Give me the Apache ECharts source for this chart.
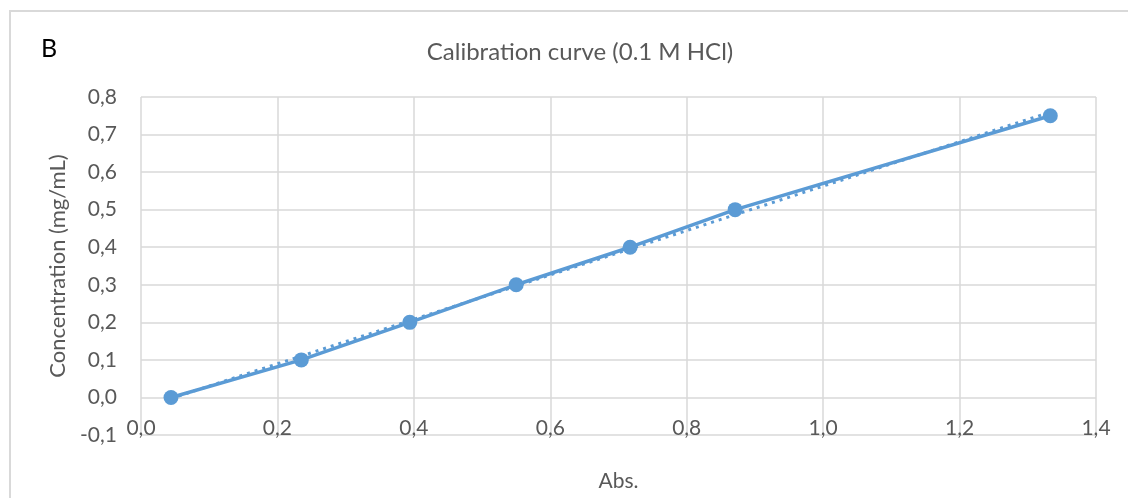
<!DOCTYPE html>
<html>
<head>
<meta charset="utf-8">
<script src="https://cdn.jsdelivr.net/npm/echarts@6/dist/echarts.min.js"></script>
<style>
html,body{margin:0;padding:0;background:#fff;}
#chart{width:1128px;height:498px;}
</style>
</head>
<body>
<div id="chart"></div>
<script>
// Data
const absValues = [0.044, 0.235, 0.394, 0.550, 0.717, 0.871, 1.333];
const concValues = [0.0, 0.1, 0.2, 0.3, 0.4, 0.5, 0.75];
const chartTitle = 'Calibration curve (0.1 M HCl)';
const panelLabel = 'B';
const xAxisTitle = 'Abs.';
const yAxisTitle = 'Concentration (mg/mL)';

const points = absValues.map((x, i) => [x, concValues[i]]);

// Linear least-squares trendline (as Excel's linear trendline)
const n = absValues.length;
const mx = absValues.reduce((a, b) => a + b, 0) / n;
const my = concValues.reduce((a, b) => a + b, 0) / n;
let sxy = 0, sxx = 0;
for (let i = 0; i < n; i++) {
  sxy += (absValues[i] - mx) * (concValues[i] - my);
  sxx += (absValues[i] - mx) * (absValues[i] - mx);
}
const slope = sxy / sxx;
const intercept = my - slope * mx;
const xMin = Math.min(...absValues), xMax = Math.max(...absValues);
const trend = [[xMin, intercept + slope * xMin], [xMax, intercept + slope * xMax]];

const fmt = v => v.toFixed(1).replace('.', ',');
const FONT = 'Lato';
const TXT = '#595959';
const GRID = '#D9D9D9';
const BLUE = '#5B9BD5';

const chart = echarts.init(document.getElementById('chart'), null, {renderer: 'canvas'});
chart.setOption({
  animation: false,
  backgroundColor: '#fff',
  textStyle: {fontFamily: FONT},
  title: {
    text: chartTitle,
    left: 575,
    top: 47,
    textAlign: 'center',
    textVerticalAlign: 'middle',
    textStyle: {fontFamily: FONT, fontSize: 24, fontWeight: 'normal', color: TXT}
  },
  graphic: [
    {type: 'rect', shape: {x: 10, y: 11, width: 1200, height: 600},
     style: {fill: 'none', stroke: GRID, lineWidth: 2}, silent: true, z: -10},
    {type: 'text', x: 41, y: 49,
     style: {text: panelLabel, fontFamily: FONT, fontSize: 25, fill: '#000', verticalAlign: 'middle', align: 'left'}}
  ],
  grid: {left: 141, top: 97, width: 955, height: 338, containLabel: false},
  xAxis: {
    type: 'value',
    min: 0, max: 1.4, interval: 0.2,
    name: xAxisTitle,
    nameLocation: 'middle',
    nameGap: 36,
    nameTextStyle: {fontFamily: FONT, fontSize: 21, color: TXT},
    axisLine: {show: false},
    axisTick: {show: false},
    axisLabel: {formatter: fmt, fontFamily: FONT, fontSize: 21, color: TXT, margin: -7, verticalAlign: 'middle'},
    splitLine: {show: true, lineStyle: {color: GRID, width: 1.5}}
  },
  yAxis: {
    type: 'value',
    min: -0.1, max: 0.8, interval: 0.1,
    name: yAxisTitle,
    nameLocation: 'middle',
    nameRotate: 90,
    nameGap: 71,
    nameTextStyle: {fontFamily: FONT, fontSize: 22, color: TXT},
    axisLine: {show: false},
    axisTick: {show: false},
    axisLabel: {formatter: fmt, fontFamily: FONT, fontSize: 21, color: TXT, margin: 24},
    splitLine: {show: true, lineStyle: {color: GRID, width: 1.5}}
  },
  series: [
    {
      name: 'Trendline',
      type: 'line',
      data: trend,
      symbol: 'none',
      lineStyle: {color: BLUE, width: 3, type: [3, 5], cap: 'butt'},
      z: 2
    },
    {
      name: 'Calibration',
      type: 'line',
      data: points,
      symbol: 'circle',
      symbolSize: 15,
      itemStyle: {color: BLUE},
      lineStyle: {color: BLUE, width: 3.5},
      z: 3
    }
  ]
});
</script>
</body>
</html>
